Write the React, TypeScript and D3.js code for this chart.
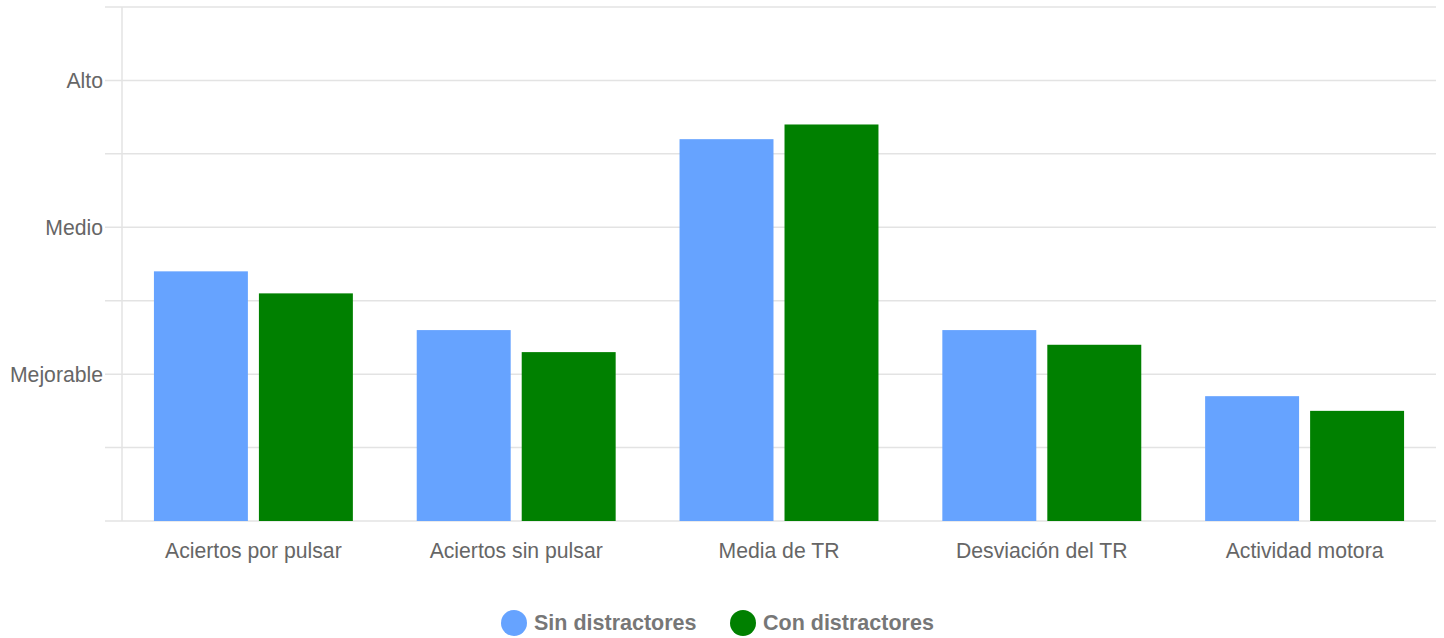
import React from "react";
import * as d3 from "d3";

const categories = ["Aciertos por pulsar", "Aciertos sin pulsar", "Media de TR", "Desviación del TR", "Actividad motora"];
const seriesNames = ["Sin distractores", "Con distractores"];
const seriesColors = ["#66a3ff", "#008000"];
const sinValues = [34, 26, 52, 26, 17];
const conValues = [31, 23, 54, 24, 15];
const tickValues = [0, 10, 20, 30, 40, 50, 60, 70];
const tickLabels: Record<number, string> = { 20: "Mejorable", 40: "Medio", 60: "Alto" };

const W = 1444;
const H = 638;
const left = 122;
const right = 1436;
const top = 7;
const bottom = 521;

export default function App() {
  const y = d3.scaleLinear().domain([0, 70]).range([bottom, top]);
  const x = d3.scaleBand<string>().domain(categories).range([left, right]).paddingInner(0.243).paddingOuter(0.1215);
  const xs = d3.scaleBand<string>().domain(seriesNames).range([0, x.bandwidth()]).paddingInner(0.105).paddingOuter(0);
  const values = [sinValues, conValues];
  const font = "Arial, 'Liberation Sans', sans-serif";
  return (
    <svg width={W} height={H} style={{ position: "absolute", left: 0, top: 0, background: "#fff" }} fontFamily={font}>
      {tickValues.map((t) => (
        <line key={t} x1={105} x2={right} y1={y(t)} y2={y(t)} stroke="#e3e3e3" strokeWidth={1.5} />
      ))}
      <line x1={left} x2={left} y1={top} y2={bottom} stroke="#e3e3e3" strokeWidth={1.5} />
      {tickValues.filter((t) => tickLabels[t]).map((t) => (
        <text key={t} x={103} y={y(t)} dy="0.35em" textAnchor="end" fontSize={21.2} fill="#666">
          {tickLabels[t]}
        </text>
      ))}
      {categories.map((c, i) => (
        <g key={c} transform={`translate(${x(c)},0)`}>
          {seriesNames.map((s, j) => (
            <rect key={s} x={xs(s)} y={y(values[j][i])} width={xs.bandwidth()} height={bottom - y(values[j][i])} fill={seriesColors[j]} />
          ))}
          <text x={x.bandwidth() / 2} y={558} textAnchor="middle" fontSize={21.2} fill="#666">
            {c}
          </text>
        </g>
      ))}
      {seriesNames.map((s, j) => {
        const lx = [514, 743][j];
        return (
          <g key={s}>
            <circle cx={lx} cy={623} r={13} fill={seriesColors[j]} />
            <text x={lx + 20} y={630} fontSize={21.5} fontWeight="bold" fill="#777">
              {s}
            </text>
          </g>
        );
      })}
    </svg>
  );
}
